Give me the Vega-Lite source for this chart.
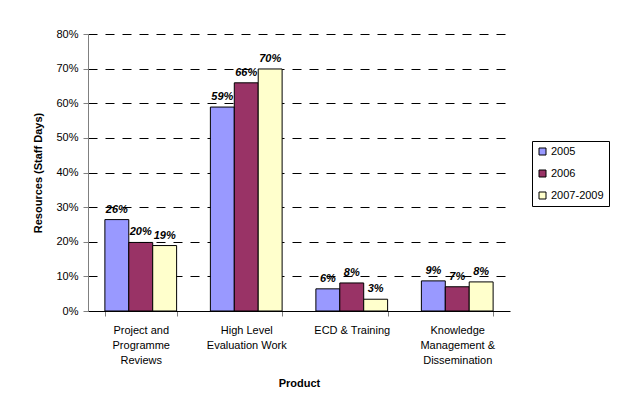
{
  "$schema": "https://vega.github.io/schema/vega-lite/v6.json",
  "autosize": "none",
  "width": 422,
  "height": 277,
  "padding": {"left": 88, "top": 34, "right": 114, "bottom": 98},
  "background": "white",
  "config": {
    "view": {"stroke": null},
    "font": "Liberation Sans",
    "axis": {"labelFont": "Liberation Sans", "titleFont": "Liberation Sans", "labelColor": "black", "titleColor": "black"}
  },
  "data": {
    "values": [
      {"product": "Project and|Programme|Reviews", "period": "2005", "share": 0.264},
      {"product": "Project and|Programme|Reviews", "period": "2006", "share": 0.198},
      {"product": "Project and|Programme|Reviews", "period": "2007-2009", "share": 0.189},
      {"product": "High Level|Evaluation Work", "period": "2005", "share": 0.589},
      {"product": "High Level|Evaluation Work", "period": "2006", "share": 0.659},
      {"product": "High Level|Evaluation Work", "period": "2007-2009", "share": 0.699},
      {"product": "ECD & Training", "period": "2005", "share": 0.064},
      {"product": "ECD & Training", "period": "2006", "share": 0.081},
      {"product": "ECD & Training", "period": "2007-2009", "share": 0.034},
      {"product": "Knowledge|Management &|Dissemination", "period": "2005", "share": 0.087},
      {"product": "Knowledge|Management &|Dissemination", "period": "2006", "share": 0.070},
      {"product": "Knowledge|Management &|Dissemination", "period": "2007-2009", "share": 0.084}
    ]
  },
  "encoding": {
    "x": {
      "field": "product", "type": "nominal", "sort": null,
      "scale": {"paddingInner": 0.32, "paddingOuter": 0.16},
      "axis": {
        "title": "Product", "titleFontSize": 11, "titleFontWeight": "bold", "titlePadding": 12,
        "labelAngle": 0, "labelFontSize": 11, "labelPadding": 8, "labelLineHeight": 15,
        "labelExpr": "split(datum.label, '|')", "labelBaseline": "top",
        "tickBand": "extent", "tickSize": 5, "tickColor": "#808080",
        "domainColor": "#000000", "grid": false
      }
    },
    "xOffset": {"field": "period", "type": "nominal", "sort": ["2005", "2006", "2007-2009"], "scale": {"paddingInner": 0, "paddingOuter": 0}},
    "y": {
      "field": "share", "type": "quantitative",
      "scale": {"domain": [0, 0.8], "nice": false},
      "axis": {
        "title": "Resources (Staff Days)", "titleFontSize": 11, "titleFontWeight": "bold", "titlePadding": 12,
        "format": ".0%", "values": [0, 0.1, 0.2, 0.3, 0.4, 0.5, 0.6, 0.7, 0.8],
        "labelFontSize": 11, "labelPadding": 5, "tickSize": 5, "tickColor": "#808080",
        "domainColor": "#808080",
        "grid": true, "gridColor": "#000000", "gridDash": [9, 8], "gridWidth": 1
      }
    }
  },
  "layer": [
    {
      "mark": {"type": "bar", "stroke": "black", "strokeWidth": 1},
      "encoding": {
        "color": {
          "field": "period", "type": "nominal",
          "scale": {"domain": ["2005", "2006", "2007-2009"], "range": ["#9999FF", "#993366", "#FFFFCC"]},
          "legend": {
            "title": null, "orient": "none", "legendX": 444, "legendY": 107,
            "symbolType": "square", "symbolSize": 49, "symbolStrokeColor": "black", "symbolStrokeWidth": 1,
            "symbolOpacity": 1,
            "labelFontSize": 11, "labelColor": "black", "labelFont": "Liberation Sans", "labelOffset": 3,
            "rowPadding": 10, "strokeColor": "black", "padding": 5
          }
        }
      }
    },
    {
      "mark": {"type": "text", "baseline": "bottom", "dy": -5, "fontSize": 11, "fontWeight": "bold", "fontStyle": "italic", "color": "black"},
      "encoding": {
        "text": {"field": "share", "type": "quantitative", "format": ".0%"}
      }
    }
  ]
}
